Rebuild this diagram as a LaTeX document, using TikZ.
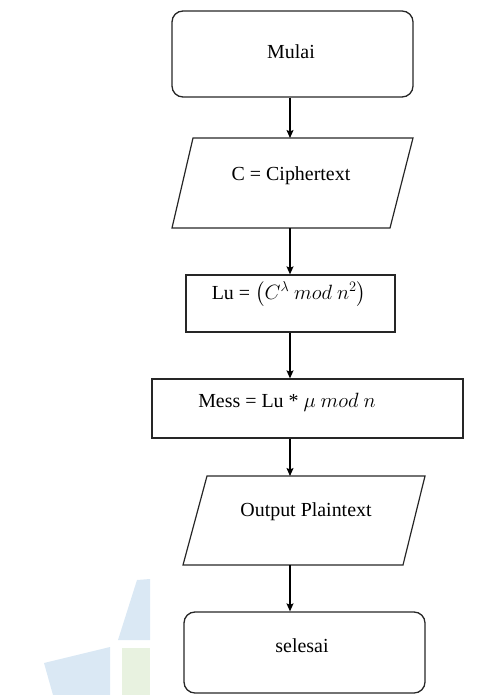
\documentclass[tikz,border=0pt]{standalone}
\usepackage{fontspec}
\setmainfont{Liberation Serif}
\usepackage{amsmath}
\usetikzlibrary{arrows.meta}

\definecolor{wmblue}{RGB}{218,232,244}
\definecolor{wmgreen}{RGB}{232,242,224}

\tikzset{
    terminal/.style={draw=black!85, line width=1.3pt, rounded corners=11pt, minimum width=241bp, minimum height=86bp, inner sep=0pt},
    process/.style={draw=black!85, line width=1.3pt, inner sep=0pt},
    inout/.style={draw=black!85, line width=1.2pt, line join=miter},
    txt/.style={font=\fontsize{20}{22}\selectfont, inner sep=0pt},
    flow/.style={-{Stealth[length=8bp,width=7bp,inset=1.5bp]}, line width=1.2pt}
}

\begin{document}
\begin{tikzpicture}[x=1bp, y=-1bp]
        \useasboundingbox (0,0) rectangle (489,695);

        % Watermark
        \fill[wmblue] (137,580) -- (150,579) -- (150,640) -- (118,640) -- cycle;
        \fill[wmblue] (44,663) -- (110,647) -- (110,695) -- (53,695) -- cycle;
        \fill[wmgreen] (122,648) -- (150,648) -- (150,695) -- (122,695) -- cycle;

        % Arrow axis
        \coordinate (axis) at (290,0);

        % Start
        \node[terminal] (mulai) at (292.5,54) {};
        \node[txt] (mulai-txt) at (291,52) {Mulai};

        % Input ciphertext
        \draw[inout] (193,138) -- (413,138) -- (390,228) -- (172,228) -- cycle;
        \coordinate (cipher-n) at (290,138);
        \coordinate (cipher-s) at (290,228);
        \node[txt] (cipher-txt) at (291,176) {C = Ciphertext};

        % Lu
        \node[process, minimum width=209bp, minimum height=57bp] (lu) at (290.5,303.5) {};
        \node[txt] (lu-txt) at (289,294) {Lu = $\left(C^{\lambda}\ mod\ n^{2}\right)$};

        % Message
        \node[process, minimum width=311bp, minimum height=59bp] (mess) at (307.5,408.5) {};
        \node[txt] (mess-txt) at (287,402) {Mess = Lu * $\mu\ mod\ n$};

        % Output plaintext
        \draw[inout] (207,476) -- (425,476) -- (403,565) -- (183,565) -- cycle;
        \coordinate (plain-n) at (290,476);
        \coordinate (plain-s) at (290,565);
        \node[txt] (plain-txt) at (306,512) {Output Plaintext};

        % End
        \node[terminal, minimum height=81bp] (selesai) at (304.5,652.5) {};
        \node[txt] (selesai-txt) at (302,646) {selesai};

        % Connectors
        \draw[flow] (mulai.south -| axis) -- (cipher-n);
        \draw[flow] (cipher-s) -- (lu.north -| axis);
        \draw[flow] (lu.south -| axis) -- (mess.north -| axis);
        \draw[flow] (mess.south -| axis) -- (plain-n);
        \draw[flow] (plain-s) -- (selesai.north -| axis);

    \end{tikzpicture}
\end{document}
